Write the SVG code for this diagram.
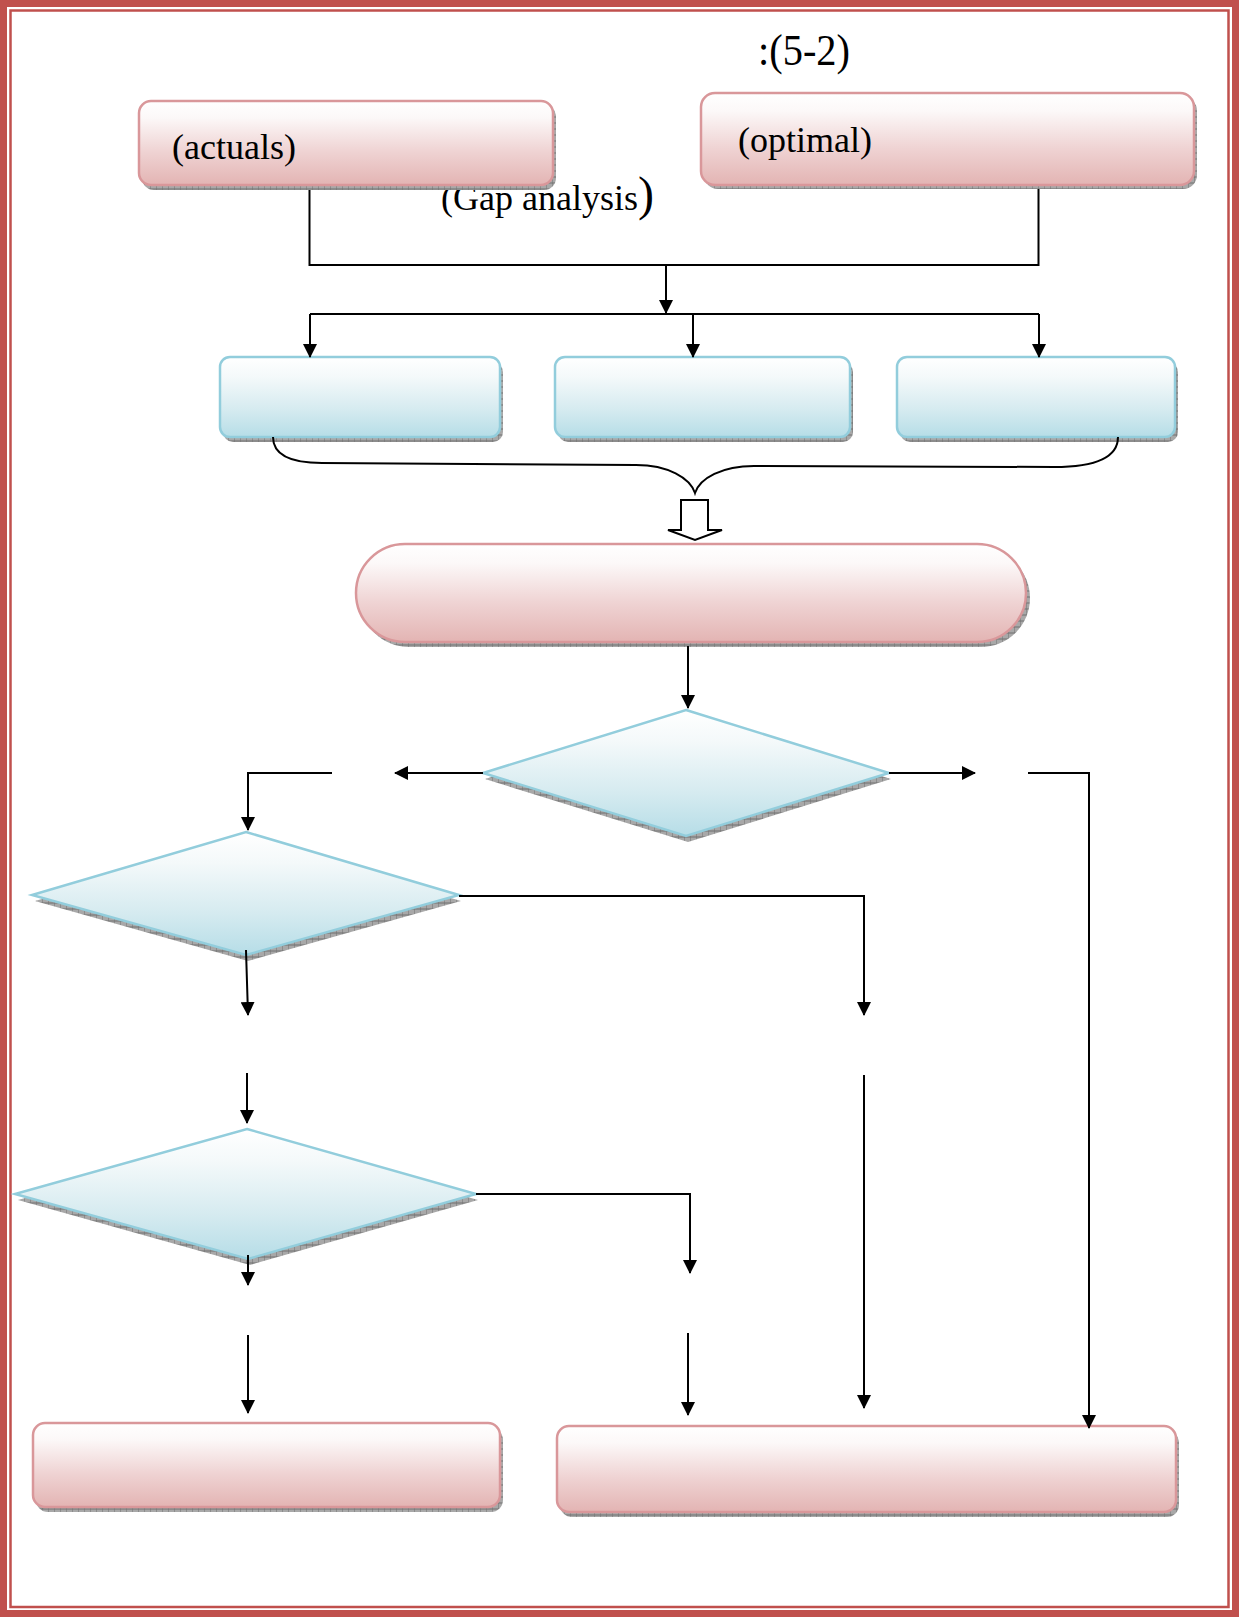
<svg xmlns="http://www.w3.org/2000/svg" width="1239" height="1617" viewBox="0 0 1239 1617">
<style>
.pink{fill:url(#gPink);stroke:#D9979A;stroke-width:2.5}
.blue{fill:url(#gBlue);stroke:#92CDDC;stroke-width:2.5}
.shadow{fill:url(#hatch)}
.con{fill:none;stroke:#000;stroke-width:2}
.arr{marker-end:url(#ah)}
.t{font-family:"Liberation Serif","Times New Roman",serif;fill:#000}
.frame{fill:none;stroke:#C0504D}
</style>
<defs>
<linearGradient id="gPink" x1="0" y1="0" x2="0" y2="1">
<stop offset="0" stop-color="#FFFFFF"/>
<stop offset="0.2" stop-color="#FCF8F8"/>
<stop offset="0.6" stop-color="#EFD3D3"/>
<stop offset="1" stop-color="#E3B4B3"/>
</linearGradient>
<linearGradient id="gBlue" x1="0" y1="0" x2="0" y2="1">
<stop offset="0" stop-color="#FFFFFF"/>
<stop offset="0.25" stop-color="#F4F9FA"/>
<stop offset="0.65" stop-color="#D6EBF0"/>
<stop offset="1" stop-color="#B6DDE7"/>
</linearGradient>
<pattern id="hatch" width="6" height="6" patternUnits="userSpaceOnUse">
<rect width="6" height="6" fill="#A8A8A8"/>
<path d="M0,0V6M0,3H6" stroke="#707070" stroke-width="1"/>
</pattern>
<marker id="ah" viewBox="0 0 14 14" refX="13" refY="7" markerWidth="14" markerHeight="14" markerUnits="userSpaceOnUse" orient="auto">
<path d="M0,0L14,7L0,14z" fill="#000"/>
</marker>
</defs>
<rect width="1239" height="1617" fill="#fff"/>
<g id="frame">
<rect class="frame" x="3.5" y="3.5" width="1232" height="1610" stroke-width="7"/>
<rect class="frame" x="10.5" y="10.5" width="1218" height="1596.5" stroke-width="2.5"/>
</g>
<g id="title">
<text class="t" x="758" y="65" font-size="44" textLength="92" lengthAdjust="spacingAndGlyphs">:(5-2)</text>
</g>
<g id="gap-label">
<text class="t" x="441" y="210" font-size="36">(Gap analysis<tspan font-size="48">)</tspan></text>
</g>
<g id="actuals">
<rect class="shadow" x="142" y="105" width="414" height="85" rx="12"/>
<rect class="pink" x="139" y="101" width="414" height="84" rx="12"/>
<text class="t" x="172" y="159" font-size="36">(actuals)</text>
</g>
<g id="optimal">
<rect class="shadow" x="704" y="97" width="493" height="92" rx="14"/>
<rect class="pink" x="701" y="93" width="493" height="92" rx="14"/>
<text class="t" x="738" y="152" font-size="36">(optimal)</text>
</g>
<g id="box-a">
<rect class="shadow" x="223" y="362" width="280" height="80" rx="10"/>
<rect class="blue" x="220" y="357" width="280" height="80" rx="10"/>
</g>
<g id="box-b">
<rect class="shadow" x="558" y="362" width="295" height="80" rx="10"/>
<rect class="blue" x="555" y="357" width="295" height="80" rx="10"/>
</g>
<g id="box-c">
<rect class="shadow" x="900" y="362" width="278" height="80" rx="10"/>
<rect class="blue" x="897" y="357" width="278" height="80" rx="10"/>
</g>
<g id="result">
<rect class="shadow" x="360" y="549" width="670" height="98" rx="49"/>
<rect class="pink" x="356" y="544" width="670" height="98" rx="49"/>
</g>
<g id="decision-1">
<polygon class="shadow" points="688,716 891,779 688,842 485,779"/>
<polygon class="blue" points="686,710 889,773 686,836 483,773"/>
</g>
<g id="decision-2">
<polygon class="shadow" points="248,838 461,901 248,961 35,901"/>
<polygon class="blue" points="246,832 459,895 246,955 32,895"/>
</g>
<g id="decision-3">
<polygon class="shadow" points="249,1135 478,1200 250,1265 18,1200"/>
<polygon class="blue" points="247,1129 476,1194 248,1259 15,1194"/>
</g>
<g id="end-left">
<rect class="shadow" x="36" y="1428" width="467" height="84" rx="12"/>
<rect class="pink" x="33" y="1423" width="467" height="84" rx="12"/>
</g>
<g id="end-right">
<rect class="shadow" x="560" y="1431" width="619" height="86" rx="12"/>
<rect class="pink" x="557" y="1426" width="619" height="86" rx="12"/>
</g>
<g id="connectors">
<path class="con" d="M309.5,190V265H1038.5V189"/>
<path class="con arr" d="M666,265V313"/>
<path class="con" d="M310,314H1039"/>
<path class="con arr" d="M310,314V357"/>
<path class="con arr" d="M693,314V357"/>
<path class="con arr" d="M1039,314V357"/>
<path class="con" d="M273,437C273,455 290,463 322,463L636,465C668,465 690,478 695,493C700,478 722,466 754,466L1054,467C1100,467 1118,456 1118,437"/>
<path class="con" d="M681,500H708V530H722L695,540L668,530H681Z" style="fill:#fff"/>
<path class="con arr" d="M688,646V708"/>
<path class="con arr" d="M483,773H395"/>
<path class="con arr" d="M332,773H248V830"/>
<path class="con arr" d="M889,773H975"/>
<path class="con arr" d="M1028,773H1089V1428"/>
<path class="con arr" d="M459,896H864V1015"/>
<path class="con arr" d="M246,950L248,1015"/>
<path class="con arr" d="M247,1073V1123"/>
<path class="con arr" d="M248,1255V1285"/>
<path class="con arr" d="M476,1194H690V1273"/>
<path class="con arr" d="M248,1335V1413"/>
<path class="con arr" d="M688,1333V1415"/>
<path class="con arr" d="M864,1075V1408"/>
</g>
</svg>
